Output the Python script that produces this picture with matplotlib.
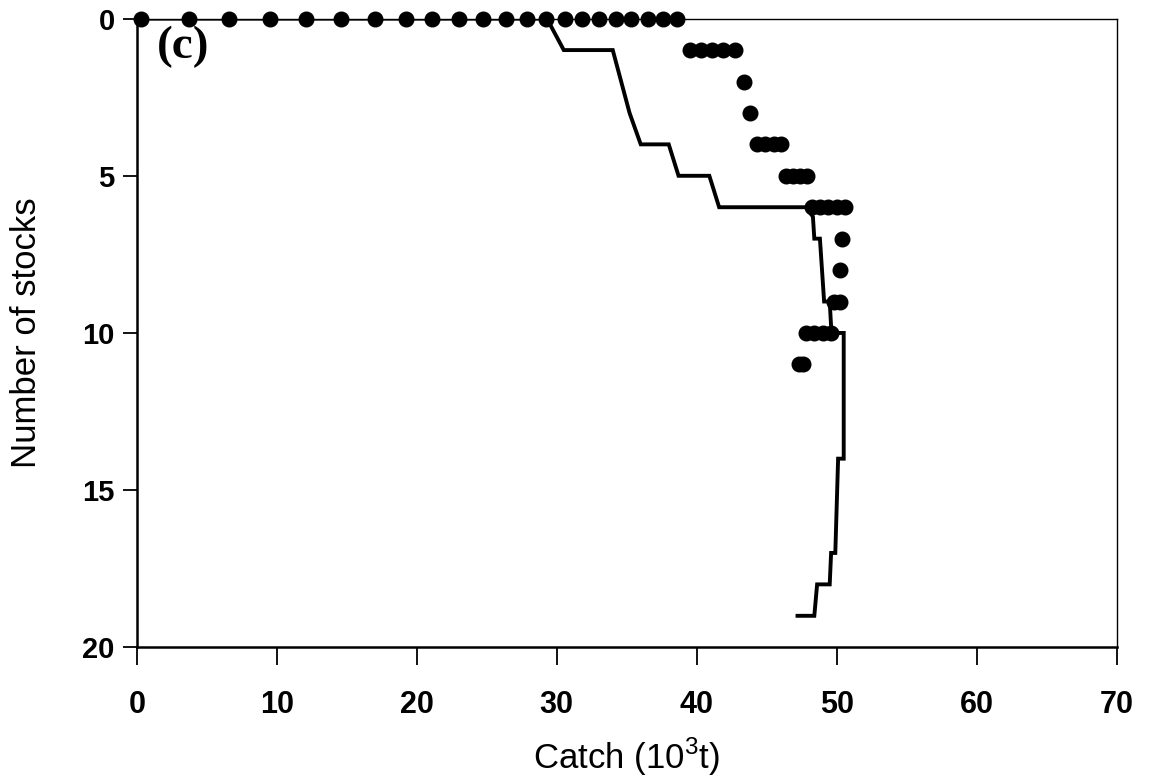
import matplotlib
matplotlib.use("Agg")
import matplotlib.pyplot as plt

# Step line (model trajectory): catch (10^3 t) vs number of stocks
line_catch = [0, 29.3, 30.5, 34.0, 35.2, 36.0, 38.0, 38.7, 40.9, 41.6, 47.8, 48.3, 48.4, 48.8,
              49.1, 49.5, 49.6, 50.1, 50.5, 50.5, 50.1, 49.9, 49.6, 49.5, 48.6, 48.4, 47.2]
line_stocks = [0, 0, 1, 1, 3, 4, 4, 5, 5, 6, 6, 6.3, 7, 7,
               9, 9, 9.8, 10, 10, 14, 14, 17, 17, 18, 18, 19, 19]

# Dots (observed): catch and number of stocks
dot_catch = [0.3, 3.7, 6.6, 9.5, 12.1, 14.6, 17.0, 19.2, 21.1, 23.0, 24.7, 26.4, 27.9, 29.2,
             30.6, 31.8, 33.0, 34.2, 35.3, 36.5, 37.6, 38.6,
             39.5, 40.3, 41.1, 41.9, 42.7,
             43.4,
             43.8,
             44.3, 44.9, 45.5, 46.0,
             46.4, 46.9, 47.4, 47.9,
             48.2, 48.8, 49.4, 50.0, 50.6,
             50.4,
             50.2,
             49.8, 50.2,
             47.8, 48.4, 49.0, 49.6,
             47.3, 47.6]
dot_stocks = [0] * 22 + [1] * 5 + [2] + [3] + [4] * 4 + [5] * 4 + [6] * 5 + [7] + [8] + [9] * 2 + [10] * 4 + [11] * 2

x_ticks = [0, 10, 20, 30, 40, 50, 60, 70]
y_ticks = [0, 5, 10, 15, 20]

fig = plt.figure(figsize=(11.5, 7.77), dpi=100)
ax = fig.add_axes([0.119, 0.167, 0.852, 0.809])

ax.plot(line_catch, line_stocks, color="black", lw=2.8, solid_joinstyle="miter", zorder=2)
ax.plot(dot_catch, dot_stocks, "o", color="black", ms=10.5, mec="black", clip_on=False, zorder=3)

ax.set_xlim(0, 70)
ax.set_ylim(20, 0)
ax.set_xticks(x_ticks)
ax.set_yticks(y_ticks)

for sp in ["left", "bottom"]:
    ax.spines[sp].set_linewidth(1.8)
for sp in ["top", "right"]:
    ax.spines[sp].set_linewidth(1.0)

ax.tick_params(axis="x", direction="out", length=13, width=1.3, pad=18)
ax.tick_params(axis="y", direction="out", length=10, width=1.3, pad=6)

for lab in ax.get_xticklabels():
    lab.set_fontfamily(["Liberation Sans Narrow", "Liberation Sans"])
    lab.set_fontweight("bold")
    lab.set_fontsize(22)
for lab in ax.get_yticklabels():
    lab.set_fontfamily("Liberation Sans")
    lab.set_fontweight("bold")
    lab.set_fontsize(21)

ax.set_xlabel(r"Catch (10$^{\mathregular{3}}$t)", fontsize=25,
              family="Liberation Sans", labelpad=11)
ax.set_ylabel("Number of stocks", fontsize=25, family="Liberation Sans", labelpad=28)

ax.text(0.02, 0.988, "(c)", transform=ax.transAxes, ha="left", va="top",
        fontsize=34, fontweight="bold", family="Liberation Serif")

fig.savefig("out.png", dpi=100)
